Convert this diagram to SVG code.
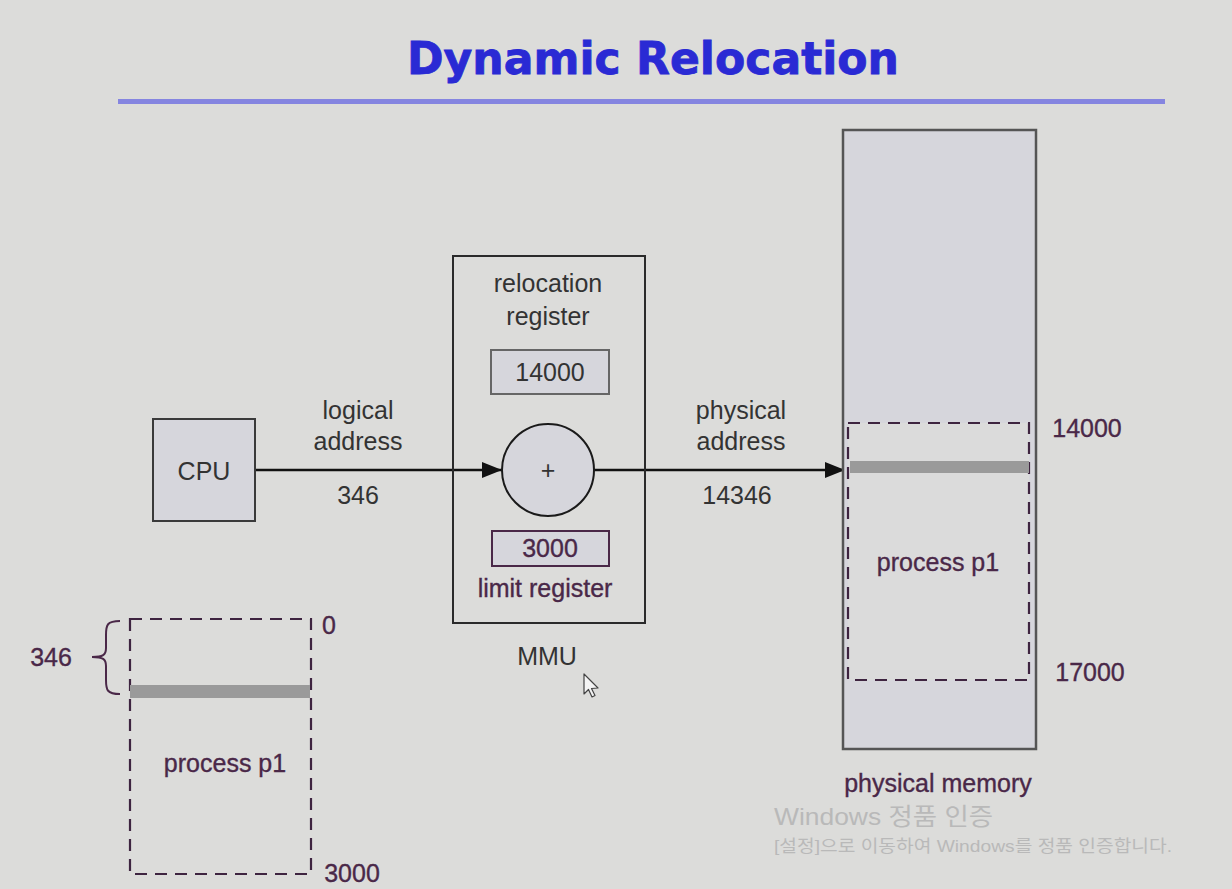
<svg xmlns="http://www.w3.org/2000/svg" width="1232" height="889" viewBox="0 0 1232 889">
  <style>
    .lbl { font-family: "Liberation Sans", Arial, sans-serif; font-size: 25px; fill: #333333; text-anchor: middle; }
    .pur { fill: #4a2848; stroke: #4a2848; stroke-width: 0.35; }
    .box { fill: #d6d6dc; stroke: #3a3a3a; stroke-width: 2; }
    .dash { fill: none; stroke: #3e2440; stroke-width: 2.2; stroke-dasharray: 12 8; }
    .bar { fill: #9a9a9a; }
    .wire { stroke: #111111; stroke-width: 2.5; fill: none; }
    .wm { font-family: "Liberation Sans", "Noto Sans CJK KR", sans-serif; fill: #b9b9b9; }
  </style>
  <defs>
    <marker id="arrowBig" viewBox="0 0 20 16" refX="20" refY="8" markerWidth="20" markerHeight="16" markerUnits="userSpaceOnUse" orient="auto">
      <path d="M0,0 L20,8 L0,16 z" fill="#111111"/>
    </marker>
  </defs>

  <rect width="1232" height="889" fill="#dcdcda"/>

  <!-- title -->
  <g id="title">
    <text x="653" y="74" font-family="'DejaVu Sans', Verdana, sans-serif" font-weight="bold" font-size="44" fill="#2a2ad4" stroke="#2a2ad4" stroke-width="0.8" text-anchor="middle" textLength="492" lengthAdjust="spacingAndGlyphs">Dynamic Relocation</text>
    <rect x="118" y="99" width="1047" height="5" fill="#8585e0"/>
  </g>

  <!-- connectors -->
  <g id="connectors">
    <line class="wire" x1="255" y1="470" x2="502" y2="470" marker-end="url(#arrowBig)"/>
    <line class="wire" x1="594" y1="470" x2="845" y2="470" marker-end="url(#arrowBig)"/>
  </g>

  <!-- CPU -->
  <g id="cpu">
    <rect class="box" x="153" y="419" width="102" height="102"/>
    <text class="lbl" x="204" y="480">CPU</text>
  </g>

  <g id="logical-address">
    <text class="lbl" x="358" y="419">logical</text>
    <text class="lbl" x="358" y="450">address</text>
    <text class="lbl" x="358" y="504">346</text>
  </g>

  <!-- MMU -->
  <g id="mmu">
    <rect x="453" y="256" width="192" height="367" fill="none" stroke="#2a2a2a" stroke-width="2"/>
    <text class="lbl" x="548" y="292">relocation</text>
    <text class="lbl" x="548" y="325">register</text>
    <text class="lbl" x="547" y="665">MMU</text>
  </g>

  <g id="relocation-register">
    <rect x="491" y="350" width="118" height="44" fill="#d6d6dc" stroke="#666666" stroke-width="2"/>
    <text class="lbl" x="550" y="381">14000</text>
  </g>

  <g id="adder">
    <circle cx="548" cy="470" r="46" fill="#d6d6dc" stroke="#1a1a1a" stroke-width="2"/>
    <text class="lbl" x="548" y="479">+</text>
  </g>

  <g id="limit-register">
    <rect x="492" y="531" width="117" height="35" fill="#d6d6dc" stroke="#4a2848" stroke-width="2"/>
    <text class="lbl pur" x="550" y="557">3000</text>
    <text class="lbl pur" x="545" y="597">limit register</text>
  </g>

  <g id="physical-address">
    <text class="lbl" x="741" y="419">physical</text>
    <text class="lbl" x="741" y="450">address</text>
    <text class="lbl" x="737" y="504">14346</text>
  </g>

  <!-- physical memory -->
  <g id="physical-memory">
    <rect x="843" y="130" width="193" height="619" fill="#d6d6dc" stroke="#555555" stroke-width="2.5"/>
    <rect x="848" y="423" width="181" height="257" fill="#dbdbdb"/>
    <rect class="dash" x="848" y="423" width="181" height="257"/>
    <rect class="bar" x="850" y="461" width="179" height="12"/>
    <text class="lbl pur" x="938" y="571">process p1</text>
    <text class="lbl pur" x="1087" y="437">14000</text>
    <text class="lbl pur" x="1090" y="681">17000</text>
    <text class="lbl pur" x="938" y="792">physical memory</text>
  </g>

  <!-- logical address space of p1 -->
  <g id="logical-space">
    <rect class="dash" x="130" y="619" width="181" height="255"/>
    <rect class="bar" x="130" y="685" width="180" height="13"/>
    <text class="lbl pur" x="225" y="772">process p1</text>
    <text class="lbl pur" x="329" y="634">0</text>
    <text class="lbl pur" x="352" y="882">3000</text>
    <path d="M120,621 C107,621 106,625 106,635 L106,648 C106,655 103,657 92,657 C103,657 106,659 106,666 L106,680 C106,690 107,694 120,694" fill="none" stroke="#4a2848" stroke-width="2"/>
    <text class="lbl pur" x="51" y="666">346</text>
  </g>

  <!-- pointer -->
  <path d="M584,674 L584,694 L588.5,689.5 L592,697 L595,695.5 L591.5,688.5 L598,688 Z" fill="#f4f4f4" stroke="#444444" stroke-width="1.2" stroke-linejoin="round"/>

  <!-- system watermark -->
  <g id="watermark">
    <text class="wm" x="774" y="825" font-size="24" textLength="219" lengthAdjust="spacingAndGlyphs">Windows 정품 인증</text>
    <text class="wm" x="774" y="852" font-size="17" textLength="398" lengthAdjust="spacingAndGlyphs">[설정]으로 이동하여 Windows를 정품 인증합니다.</text>
  </g>
</svg>
